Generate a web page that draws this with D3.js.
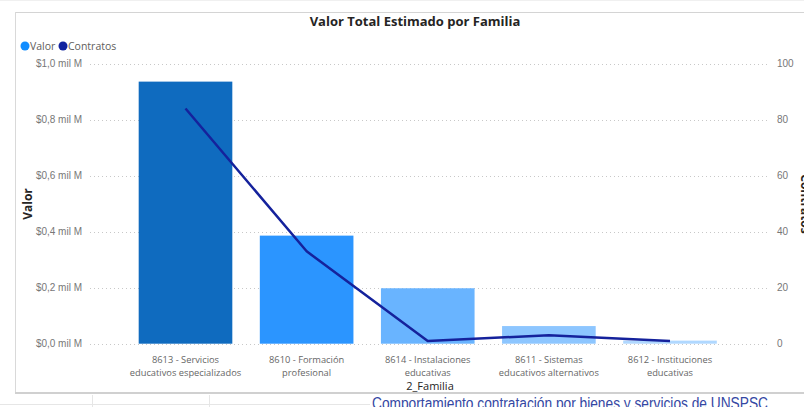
<!DOCTYPE html>
<html>
<head>
<meta charset="utf-8">
<script src="https://cdn.jsdelivr.net/npm/d3@7"></script>
<style>
  html, body { margin: 0; padding: 0; background: #fff; overflow: hidden; }
  svg { display: block; font-family: 'Segoe UI', 'Open Sans', sans-serif; }
</style>
</head>
<body>
<div class="chart-container"></div>
<script>
// Data
const familias = [
    ['8613 - Servicios', 'educativos especializados'],
    ['8610 - Formación', 'profesional'],
    ['8614 - Instalaciones', 'educativas'],
    ['8611 - Sistemas', 'educativos alternativos'],
    ['8612 - Instituciones', 'educativas']
];
const valor = [0.936, 0.386, 0.198, 0.063, 0.011];     // mil M
const contratos = [84, 33, 1, 3, 1];
const valorTicks = [0, 0.2, 0.4, 0.6, 0.8, 1.0];
const contratosTicks = [0, 20, 40, 60, 80, 100];

const barColors = ['#0F6BBF', '#2B95FF', '#69B4FF', '#8DC6FF', '#B0D8FF'];
const lineColor = '#15229C';

const outerWidth = 804;
const outerHeight = 407;

const svg = d3.select('.chart-container').append('svg')
    .attr('width', outerWidth)
    .attr('height', outerHeight);

// Frame of the visual
svg.append('line').attr('x1', 0).attr('x2', outerWidth).attr('y1', 0.5).attr('y2', 0.5)
    .attr('stroke', '#f0f0f0');
svg.append('line').attr('x1', 15).attr('x2', outerWidth).attr('y1', 12.5).attr('y2', 12.5)
    .attr('stroke', '#d4d4d4');
svg.append('line').attr('x1', 15.5).attr('x2', 15.5).attr('y1', 12).attr('y2', 393)
    .attr('stroke', '#d9d9d9');
svg.append('line').attr('x1', 15).attr('x2', outerWidth).attr('y1', 393).attr('y2', 393)
    .attr('stroke', '#d0d0d0').attr('stroke-width', 2);

// Strip below (next visual)
svg.append('line').attr('x1', 0).attr('x2', 370).attr('y1', 404.5).attr('y2', 404.5)
    .attr('stroke', '#e6e6e6');
[92, 209].forEach(xx => {
    svg.append('line').attr('x1', xx + 0.5).attr('x2', xx + 0.5).attr('y1', 395).attr('y2', 407)
        .attr('stroke', '#e6e6e6');
});
svg.append('text')
    .attr('x', 372).attr('y', 409)
    .attr('font-family', 'Liberation Sans, Arial, sans-serif')
    .attr('font-size', 16)
    .attr('textLength', 396)
    .attr('lengthAdjust', 'spacingAndGlyphs')
    .attr('fill', '#3447A3')
    .text('Comportamiento contratación por bienes y servicios de UNSPSC');

// Title
svg.append('text')
    .attr('x', 415).attr('y', 26)
    .attr('text-anchor', 'middle')
    .attr('font-size', 13)
    .attr('font-weight', 'bold')
    .attr('fill', '#252423')
    .text('Valor Total Estimado por Familia');

// Legend
const legend = [['Valor', '#118DFF', 25], ['Contratos', '#12239E', 63]];
legend.forEach(([name, color, lx]) => {
    svg.append('circle').attr('cx', lx).attr('cy', 46).attr('r', 4.5).attr('fill', color);
    svg.append('text').attr('x', lx + 5).attr('y', 50)
        .attr('font-size', 10.5).attr('fill', '#605E5C').text(name);
});

// Scales
const x = d3.scaleBand().domain(d3.range(familias.length))
    .range([125, 730.5]).paddingInner(0.227).paddingOuter(0.113);
const yLeft = d3.scaleLinear().domain([0, 1]).range([343.7, 63.7]);
const yRight = d3.scaleLinear().domain([0, 100]).range([343.7, 63.7]);

// Gridlines
svg.append('g').selectAll('line').data(valorTicks).join('line')
    .attr('x1', 90).attr('x2', 770)
    .attr('y1', d => Math.round(yLeft(d)) + 0.5).attr('y2', d => Math.round(yLeft(d)) + 0.5)
    .attr('stroke', '#c8c8c8').attr('stroke-dasharray', '1,3');

// Left axis
const leftAxis = d3.axisLeft(yLeft).tickValues(valorTicks).tickSize(0).tickPadding(0)
    .tickFormat(d => '$' + d3.format('.1f')(d).replace('.', ',') + ' mil M');
const gLeft = svg.append('g').attr('transform', 'translate(82,0)').call(leftAxis);
gLeft.select('.domain').remove();
gLeft.selectAll('text').attr('font-size', 10).attr('fill', '#777').attr('font-family', null);

// Right axis
const rightAxis = d3.axisRight(yRight).tickValues(contratosTicks).tickSize(0).tickPadding(0);
const gRight = svg.append('g').attr('transform', 'translate(777,0)').call(rightAxis);
gRight.select('.domain').remove();
gRight.selectAll('text').attr('font-size', 10).attr('fill', '#777').attr('font-family', null);

// Axis titles
svg.append('text')
    .attr('transform', 'translate(32,204) rotate(-90)')
    .attr('text-anchor', 'middle')
    .attr('font-size', 12).attr('font-weight', 'bold').attr('fill', '#252423')
    .text('Valor');
svg.append('text')
    .attr('transform', 'translate(801,204) rotate(90)')
    .attr('text-anchor', 'middle')
    .attr('font-size', 12).attr('font-weight', 'bold').attr('fill', '#252423')
    .text('Contratos');
svg.append('text')
    .attr('x', 430).attr('y', 389.5)
    .attr('text-anchor', 'middle')
    .attr('font-size', 11).attr('fill', '#252423')
    .text('2_Familia');

// Bars
svg.append('g').selectAll('rect').data(valor).join('rect')
    .attr('x', (d, i) => x(i))
    .attr('width', x.bandwidth())
    .attr('y', d => yLeft(d))
    .attr('height', d => yLeft(0) - yLeft(d))
    .attr('fill', (d, i) => barColors[i]);

// Category labels
const labels = svg.append('g').selectAll('text').data(familias).join('text')
    .attr('x', (d, i) => x(i) + x.bandwidth() / 2)
    .attr('y', 362.5)
    .attr('text-anchor', 'middle')
    .attr('font-size', 9.3)
    .attr('fill', '#666');
labels.each(function(d) {
    const t = d3.select(this);
    d.forEach((ln, k) => {
        t.append('tspan')
            .attr('x', t.attr('x'))
            .attr('dy', k === 0 ? 0 : 13.5)
            .text(ln);
    });
});

// Line
const line = d3.line()
    .x((d, i) => x(i) + x.bandwidth() / 2)
    .y(d => yRight(d));
svg.append('path')
    .datum(contratos)
    .attr('d', line)
    .attr('fill', 'none')
    .attr('stroke', lineColor)
    .attr('stroke-width', 2.5)
    .attr('stroke-linejoin', 'round');
</script>
</body>
</html>
